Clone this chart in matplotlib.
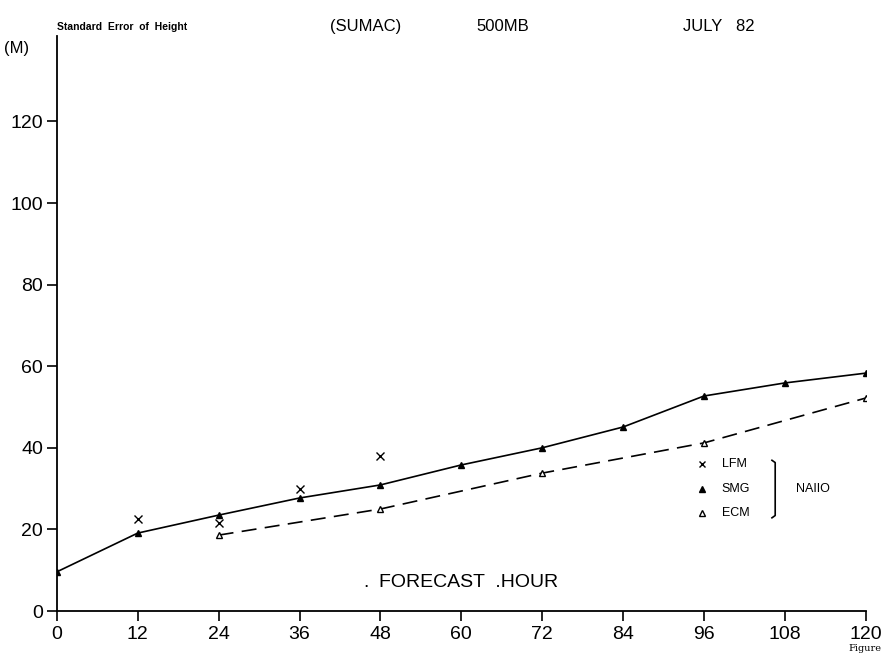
import matplotlib.pyplot as plt

# forecast hours and errors (m)
hours = [0, 12, 24, 36, 48, 60, 72, 84, 96, 108, 120]
smg = [9.6, 19.1, 23.5, 27.7, 30.9, 35.8, 40, 45.1, 52.7, 55.9, 58.3]
ecm_hours = [24, 48, 72, 96, 120]
ecm = [18.6, 25, 33.8, 41.2, 52.2]
lfm_hours = [12, 24, 36, 48]
lfm = [22.5, 21.6, 29.9, 38]

xticks = [0, 12, 24, 36, 48, 60, 72, 84, 96, 108, 120]
yticks = [0, 20, 40, 60, 80, 100, 120]

plt.rcParams['font.family'] = ['Liberation Sans', 'DejaVu Sans']

fig = plt.figure(figsize=(8.88, 6.53), dpi=100)
ax = fig.add_axes([0.064, 0.0643, 0.911, 0.881])

ax.plot(hours, smg, color='black', lw=1.2, marker='^', ms=5)
ax.plot(ecm_hours, ecm, color='black', lw=1.2, ls=(0, (9, 5)),
        marker='^', ms=5, mfc='white')
ax.plot(lfm_hours, lfm, ls='none', marker='x', color='black', ms=6, mew=1)

ax.set_xlim(0, 120)
ax.set_ylim(0, 141)
ax.set_xticks(xticks)
ax.set_yticks(yticks)
ax.tick_params(labelsize=14, length=7, width=1.2, direction='out')
ax.tick_params(axis='x', pad=4)
ax.tick_params(axis='y', pad=3)
ax.spines['top'].set_visible(False)
ax.spines['right'].set_visible(False)
for s in ['left', 'bottom']:
    ax.spines[s].set_linewidth(1.3)

ax.text(0.382, 0.049, '.', transform=ax.transAxes, fontsize=14,
        ha='center', va='center')
ax.text(0.509, 0.049, 'FORECAST  .HOUR', transform=ax.transAxes, fontsize=14,
        ha='center', va='center')

# legend, hand drawn like the original
leg_rows = [('x', 'black', 'LFM'), ('^', 'black', 'SMG'), ('^', 'white', 'ECM')]
leg_y = [0.256, 0.212, 0.170]
for (m, fc, name), yy in zip(leg_rows, leg_y):
    ax.plot([0.797], [yy], marker=m, color='black', mfc=fc, ms=5,
            transform=ax.transAxes, clip_on=False, ls='none')
    ax.text(0.822, yy, name, transform=ax.transAxes, fontsize=9,
            va='center', ha='left')
ax.plot([0.884, 0.888, 0.888, 0.884], [0.262, 0.258, 0.166, 0.162],
        color='black', lw=1.2, transform=ax.transAxes)
ax.text(0.914, 0.212, 'NAIIO', transform=ax.transAxes, fontsize=9,
        va='center', ha='left')

fig.text(0.064, 0.958, 'Standard  Error  of  Height', fontsize=7.5,
         weight='bold', va='center')
fig.text(0.372, 0.960, '(SUMAC)', fontsize=12, va='center')
fig.text(0.537, 0.960, '500MB', fontsize=12, va='center')
fig.text(0.769, 0.960, 'JULY   82', fontsize=12, va='center')
fig.text(0.004, 0.925, '(M)', fontsize=12, va='center')
fig.text(0.955, 0.0, 'Figure', fontsize=7, family='DejaVu Serif',
         va='bottom')

fig.savefig('out.png', dpi=100)
